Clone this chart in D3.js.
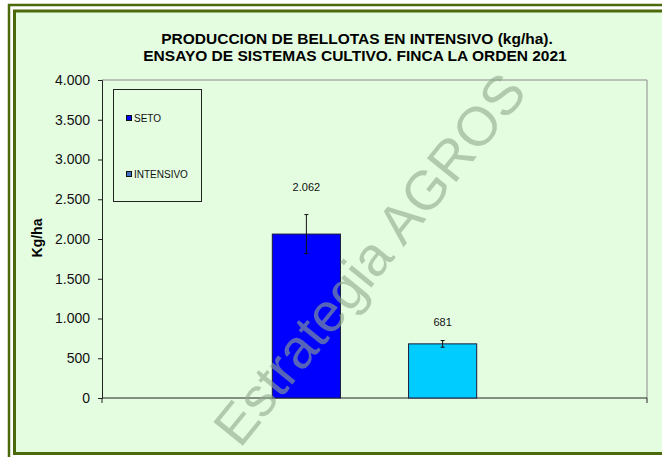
<!DOCTYPE html>
<html>
<head>
<meta charset="utf-8">
<script src="https://cdn.jsdelivr.net/npm/d3@7"></script>
<style>
  body { margin: 0; background: #fff; }
  text { font-family: Arial, "Liberation Sans", sans-serif; }
</style>
</head>
<body>
<svg id="chart" width="662" height="457"></svg>
<script>
// Chart data
const categories = ["SETO", "INTENSIVO"];
const values = [2062, 681];
const errors = [245, 42];
const valueLabels = ["2.062", "681"];
const yTicks = [0, 500, 1000, 1500, 2000, 2500, 3000, 3500, 4000];

const barColors = ["#0000ff", "#00ccff"];
const legendColors = ["#0000ff", "#3f6fc4"];

const width = 662;
const height = 457;
const plot = { left: 102, right: 647, top: 80, bottom: 398 };

const svg = d3.select("#chart");

// Frame: outer thin olive line, white gap, then inner olive line with green fill
svg.append("rect")
  .attr("x", 9).attr("y", 5)
  .attr("width", 700).attr("height", 460)
  .attr("fill", "#fff")
  .attr("stroke", "#4a6a0c")
  .attr("stroke-width", 2.5);

svg.append("rect")
  .attr("x", 14.5).attr("y", 11)
  .attr("width", 700).attr("height", 442.5)
  .attr("fill", "#e4fde1")
  .attr("stroke", "#4a6a0c")
  .attr("stroke-width", 3);

// Scales
const x = d3.scaleBand()
  .domain(categories)
  .range([plot.left, plot.right])
  .paddingInner(0.5)
  .paddingOuter(1.25);

const y = d3.scaleLinear()
  .domain([0, 4000])
  .range([plot.bottom, plot.top]);

// Spanish number format (dot as thousands separator)
const es = d3.formatLocale({ decimal: ",", thousands: ".", grouping: [3], currency: ["", " €"] });
const fmt = es.format(",d");

// Title
const title = svg.append("text")
  .attr("text-anchor", "middle")
  .attr("font-size", 15.5)
  .attr("font-weight", "bold")
  .attr("fill", "#000");
title.append("tspan").attr("x", 357).attr("y", 44)
  .text("PRODUCCION DE BELLOTAS EN INTENSIVO (kg/ha).");
title.append("tspan").attr("x", 355).attr("y", 61)
  .text("ENSAYO DE SISTEMAS CULTIVO. FINCA LA ORDEN 2021");

// Plot area border (top and right in grey)
svg.append("path")
  .attr("d", `M${plot.left},${plot.top}H${plot.right}V${plot.bottom}`)
  .attr("fill", "none")
  .attr("stroke", "#8a8a8a")
  .attr("stroke-width", 1);

// Y axis
const yAxis = svg.append("g")
  .attr("transform", `translate(${plot.left},0)`)
  .call(d3.axisLeft(y).tickValues(yTicks).tickFormat(fmt).tickSize(4).tickPadding(8));
yAxis.select(".domain").attr("stroke", "#222");
yAxis.selectAll(".tick line").attr("stroke", "#222");
yAxis.selectAll(".tick text")
  .attr("font-size", 14)
  .attr("font-family", "Arial, 'Liberation Sans', sans-serif")
  .attr("fill", "#111");

// X axis: ticks only at both ends
const xAxis = svg.append("g")
  .attr("transform", `translate(0,${plot.bottom})`);
xAxis.append("line")
  .attr("x1", plot.left).attr("x2", plot.right)
  .attr("stroke", "#222");
xAxis.selectAll("line.end")
  .data(x.range())
  .enter().append("line")
  .attr("class", "end")
  .attr("x1", d => d).attr("x2", d => d)
  .attr("y1", 0).attr("y2", 5)
  .attr("stroke", "#222");

// Y axis title
svg.append("text")
  .attr("transform", "translate(42,238) rotate(-90)")
  .attr("text-anchor", "middle")
  .attr("font-size", 14)
  .attr("font-weight", "bold")
  .text("Kg/ha");

// Bars
svg.selectAll("rect.bar")
  .data(categories)
  .enter().append("rect")
  .attr("class", "bar")
  .attr("x", d => x(d))
  .attr("y", (d, i) => y(values[i]))
  .attr("width", x.bandwidth())
  .attr("height", (d, i) => y(0) - y(values[i]))
  .attr("fill", (d, i) => barColors[i])
  .attr("stroke", "#1a1a3a")
  .attr("stroke-width", 1);

// Error bars
const errG = svg.selectAll("g.err")
  .data(categories)
  .enter().append("g")
  .attr("class", "err")
  .attr("transform", d => `translate(${x(d) + x.bandwidth() / 2},0)`);
errG.append("line")
  .attr("y1", (d, i) => y(values[i] + errors[i]))
  .attr("y2", (d, i) => y(values[i] - errors[i]))
  .attr("stroke", "#111");
errG.append("line")
  .attr("x1", -2).attr("x2", 2)
  .attr("y1", (d, i) => y(values[i] + errors[i]))
  .attr("y2", (d, i) => y(values[i] + errors[i]))
  .attr("stroke", "#111");
errG.append("line")
  .attr("x1", -2).attr("x2", 2)
  .attr("y1", (d, i) => y(values[i] - errors[i]))
  .attr("y2", (d, i) => y(values[i] - errors[i]))
  .attr("stroke", "#111");

// Value labels (moved by hand in the original, so lifted differently)
const labelLift = [24, 15];
svg.selectAll("text.val")
  .data(categories)
  .enter().append("text")
  .attr("class", "val")
  .attr("x", d => x(d) + x.bandwidth() / 2)
  .attr("y", (d, i) => y(values[i] + errors[i]) - labelLift[i])
  .attr("text-anchor", "middle")
  .attr("font-size", 11)
  .attr("fill", "#111")
  .text((d, i) => valueLabels[i]);

// Watermark on top of the bars
svg.append("text")
  .attr("transform", "translate(373,262) rotate(-51)")
  .attr("text-anchor", "middle")
  .attr("dominant-baseline", "middle")
  .attr("font-size", 55)
  .attr("fill", "#8fa88c")
  .attr("fill-opacity", 0.6)
  .text("Estrategia AGROS");

// Legend
const legend = svg.append("g");
legend.append("rect")
  .attr("x", 113.5).attr("y", 89.5)
  .attr("width", 88).attr("height", 112)
  .attr("fill", "#e4fde1")
  .attr("stroke", "#222");
const items = legend.selectAll("g.item")
  .data(categories)
  .enter().append("g")
  .attr("class", "item")
  .attr("transform", (d, i) => `translate(126,${115 + i * 56})`);
items.append("rect")
  .attr("x", 0.5).attr("y", 0.5)
  .attr("width", 5).attr("height", 5)
  .attr("fill", (d, i) => legendColors[i])
  .attr("stroke", "#111");
items.append("text")
  .attr("x", 8).attr("y", 6.5)
  .attr("font-size", 10)
  .attr("fill", "#111")
  .text(d => d);
</script>
</body>
</html>
